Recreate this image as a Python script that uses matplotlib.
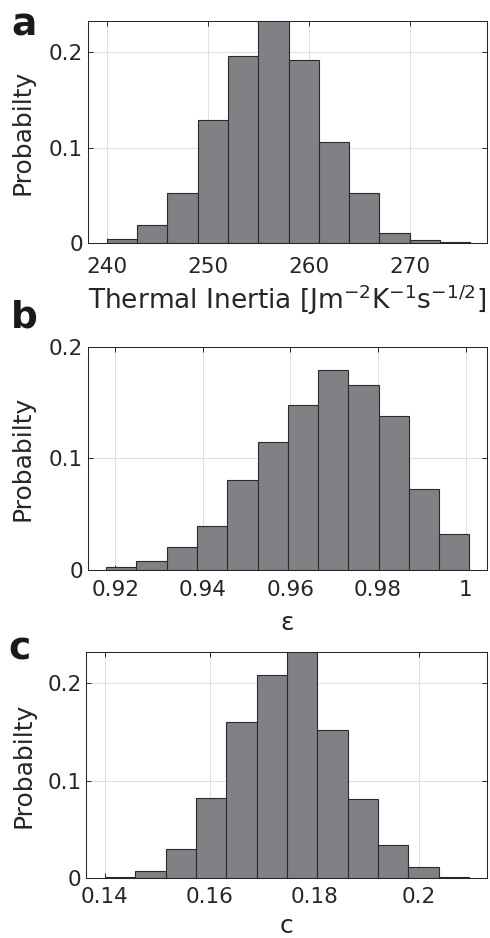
import numpy as np
import matplotlib
matplotlib.use("Agg")
from matplotlib import pyplot as plt

plt.rcParams['font.family'] = ['DejaVu Sans']
plt.rcParams['mathtext.default'] = 'regular'

# panel a: thermal inertia
ti_edges = [240, 243, 246, 249, 252, 255, 258, 261, 264, 267, 270, 273, 276]
ti_prob = [0.004, 0.019, 0.052, 0.129, 0.1965, 0.234, 0.192, 0.106, 0.053,
           0.0105, 0.003, 0.0007]
ti_ticks = [240, 250, 260, 270]
ti_labels = ['240', '250', '260', '270']

# panel b: emissivity
eps_edges = [0.9179, 0.9248, 0.9317, 0.9386, 0.9456, 0.9525, 0.9594, 0.9663,
             0.9732, 0.9801, 0.9870, 0.9939, 1.0008]
eps_prob = [0.0024, 0.0078, 0.0206, 0.039, 0.0803, 0.1143, 0.1475, 0.1794,
            0.1657, 0.1376, 0.0725, 0.0322]
eps_ticks = [0.92, 0.94, 0.96, 0.98, 1.0]
eps_labels = ['0.92', '0.94', '0.96', '0.98', '1']

# panel c: c parameter
c_edges = [0.1400, 0.1458, 0.1516, 0.1574, 0.1632, 0.1690, 0.1748, 0.1806,
           0.1864, 0.1922, 0.1980, 0.2038, 0.2096]
c_prob = [0.001, 0.0069, 0.0295, 0.0816, 0.1605, 0.2082, 0.234, 0.152, 0.081,
          0.0333, 0.011, 0.001]
c_ticks = [0.14, 0.16, 0.18, 0.20]
c_labels = ['0.14', '0.16', '0.18', '0.2']

y_ticks = [0, 0.1, 0.2]
y_labels = ['0', '0.1', '0.2']

W, H = 490, 938
fig = plt.figure(figsize=(W / 100, H / 100), dpi=100)

dark = '#262626'
bar_col = '#808185'


def px_axes(x0, y0, x1, y1):
    # pixel box (top-left origin) -> figure fraction
    return fig.add_axes([x0 / W, 1 - y1 / H, (x1 - x0) / W, (y1 - y0) / H])


def hist_panel(ax, edges, prob, xlim, ylim, ticks, labels, xlabel, xlab_size,
               xlab_y, ylab_x, xpad):
    edges = np.asarray(edges)
    ax.bar(edges[:-1], prob, width=np.diff(edges), align='edge',
           color=bar_col, edgecolor='#2a2a2a', linewidth=0.8, zorder=2)
    ax.set_xlim(*xlim)
    ax.set_ylim(*ylim)
    ax.set_xticks(ticks)
    ax.set_xticklabels(labels)
    ax.set_yticks(y_ticks)
    ax.set_yticklabels(y_labels)
    ax.grid(True, color='#dedede', linewidth=0.7, zorder=0)
    ax.set_axisbelow(True)
    for s in ax.spines.values():
        s.set_color(dark)
        s.set_linewidth(0.75)
    ax.tick_params(direction='in', length=3.5, width=0.7, colors=dark,
                   top=True, right=True, labelsize=15.5)
    ax.tick_params(axis='x', pad=xpad)
    ax.tick_params(axis='y', pad=3.5)
    ax.set_ylabel('Probabilty', fontsize=18, color=dark)
    ax.yaxis.set_label_coords(ylab_x, 0.5)
    ax.set_xlabel(xlabel, fontsize=xlab_size, color=dark)
    ax.xaxis.label.set_va('baseline')
    ax.xaxis.set_label_coords(0.5, xlab_y)


ax_a = px_axes(88, 21, 487, 243)
hist_panel(ax_a, ti_edges, ti_prob, (238.15, 277.65), (0, 0.233), ti_ticks,
           ti_labels, 'Thermal Inertia [Jm$^{-2}$K$^{-1}$s$^{-1/2}$]', 19,
           -0.297, -0.133, 10)

ax_b = px_axes(88, 346.7, 487, 570)
hist_panel(ax_b, eps_edges, eps_prob, (0.91376, 1.00487), (0, 0.2), eps_ticks,
           eps_labels, 'ε', 18, -0.269, -0.133, 7)

ax_c = px_axes(86.3, 652.3, 487, 877.7)
hist_panel(ax_c, c_edges, c_prob, (0.13643, 0.21306), (0, 0.232), c_ticks,
           c_labels, 'c', 18, -0.245, -0.128, 7)

for letter, x, y in [('a', 11, 35), ('b', 11, 328), ('c', 8, 660)]:
    fig.text(x / W, 1 - y / H, letter, fontsize=27, fontweight='bold',
             color='#1a1a1a', va='baseline', ha='left')

fig.savefig('out.png', dpi=100)
